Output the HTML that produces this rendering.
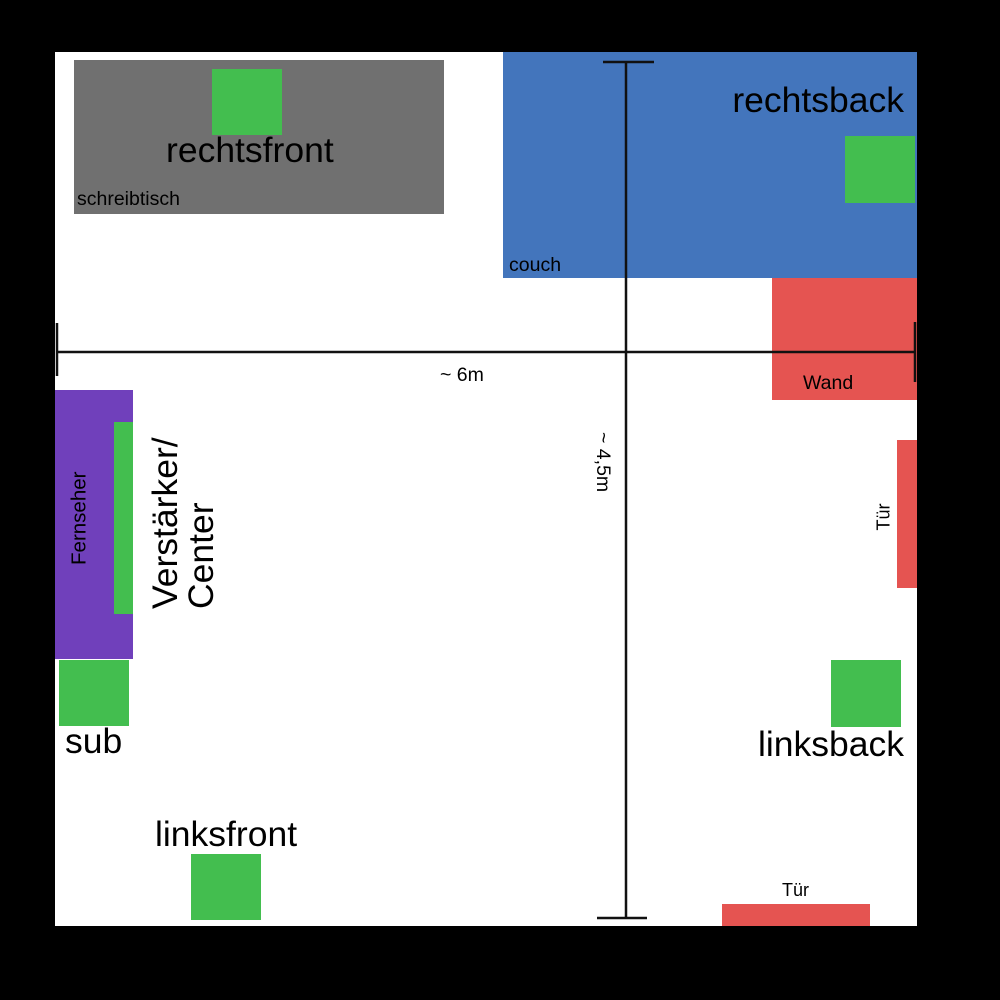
<!DOCTYPE html>
<html><head><meta charset="utf-8"><style>
body{margin:0;width:1000px;height:1000px;background:#000;position:relative;overflow:hidden;font-family:"Liberation Sans",sans-serif;}
div{position:absolute;}
.g{background:#43BE4F;}
.r{background:#E55451;}
.t{line-height:1;white-space:nowrap;color:#000;}
.big{font-size:35.5px;}
.sm{font-size:19.5px;}
</style></head><body>
<div style="left:55px;top:52px;width:862px;height:874px;background:#fff"></div>
<div style="left:74px;top:60px;width:370px;height:154px;background:#707070"></div>
<div class="g" style="left:212px;top:69px;width:70px;height:66px"></div>
<div class="t big" style="left:166px;top:133px">rechtsfront</div>
<div class="t sm" style="left:77px;top:190px">schreibtisch</div>
<div style="left:503px;top:52px;width:414px;height:226px;background:#4375BC"></div>
<div class="t big" style="right:96px;top:83px">rechtsback</div>
<div class="g" style="left:845px;top:136px;width:70px;height:67px"></div>
<div class="t sm" style="left:509px;top:256px">couch</div>
<div class="r" style="left:772px;top:278px;width:145px;height:122px"></div>
<div class="t sm" style="left:803px;top:374px">Wand</div>
<div class="r" style="left:897px;top:440px;width:20px;height:148px"></div>
<div class="r" style="left:722px;top:904px;width:148px;height:22px"></div>
<div class="t" style="left:782px;top:881px;font-size:18px">Tür</div>
<div class="t" style="left:870px;top:508px;font-size:18px;transform:rotate(-90deg);transform-origin:center">Tür</div>
<div style="left:55px;top:390px;width:78px;height:269px;background:#7040BB"></div>
<div class="g" style="left:114px;top:422px;width:19px;height:192px"></div>
<div class="t" style="left:33px;top:508px;font-size:20.5px;transform:rotate(-90deg)">Fernseher</div>
<div class="t big" style="left:93px;top:483px;width:180px;text-align:left;transform:rotate(-90deg);line-height:36px">Verstärker/<br>Center</div>
<div class="g" style="left:59px;top:660px;width:70px;height:66px"></div>
<div class="t big" style="left:65px;top:724px">sub</div>
<div class="g" style="left:831px;top:660px;width:70px;height:67px"></div>
<div class="t big" style="right:96px;top:727px">linksback</div>
<div class="g" style="left:191px;top:854px;width:70px;height:66px"></div>
<div class="t big" style="left:155px;top:817px">linksfront</div>
<svg style="position:absolute;left:0;top:0" width="1000" height="1000">
<g stroke="#111" stroke-width="2.5">
<line x1="57" y1="352" x2="915" y2="352"/>
<line x1="57" y1="323" x2="57" y2="376"/>
<line x1="915" y1="322" x2="915" y2="382"/>
<line x1="626" y1="62" x2="626" y2="918"/>
<line x1="603" y1="62" x2="654" y2="62"/>
<line x1="597" y1="918" x2="647" y2="918"/>
</g>
<text x="440" y="381" font-family="Liberation Sans" font-size="19.5">~ 6m</text>
<text transform="translate(597,432) rotate(90)" font-family="Liberation Sans" font-size="19.5">~ 4,5m</text>
</svg>
</body></html>
